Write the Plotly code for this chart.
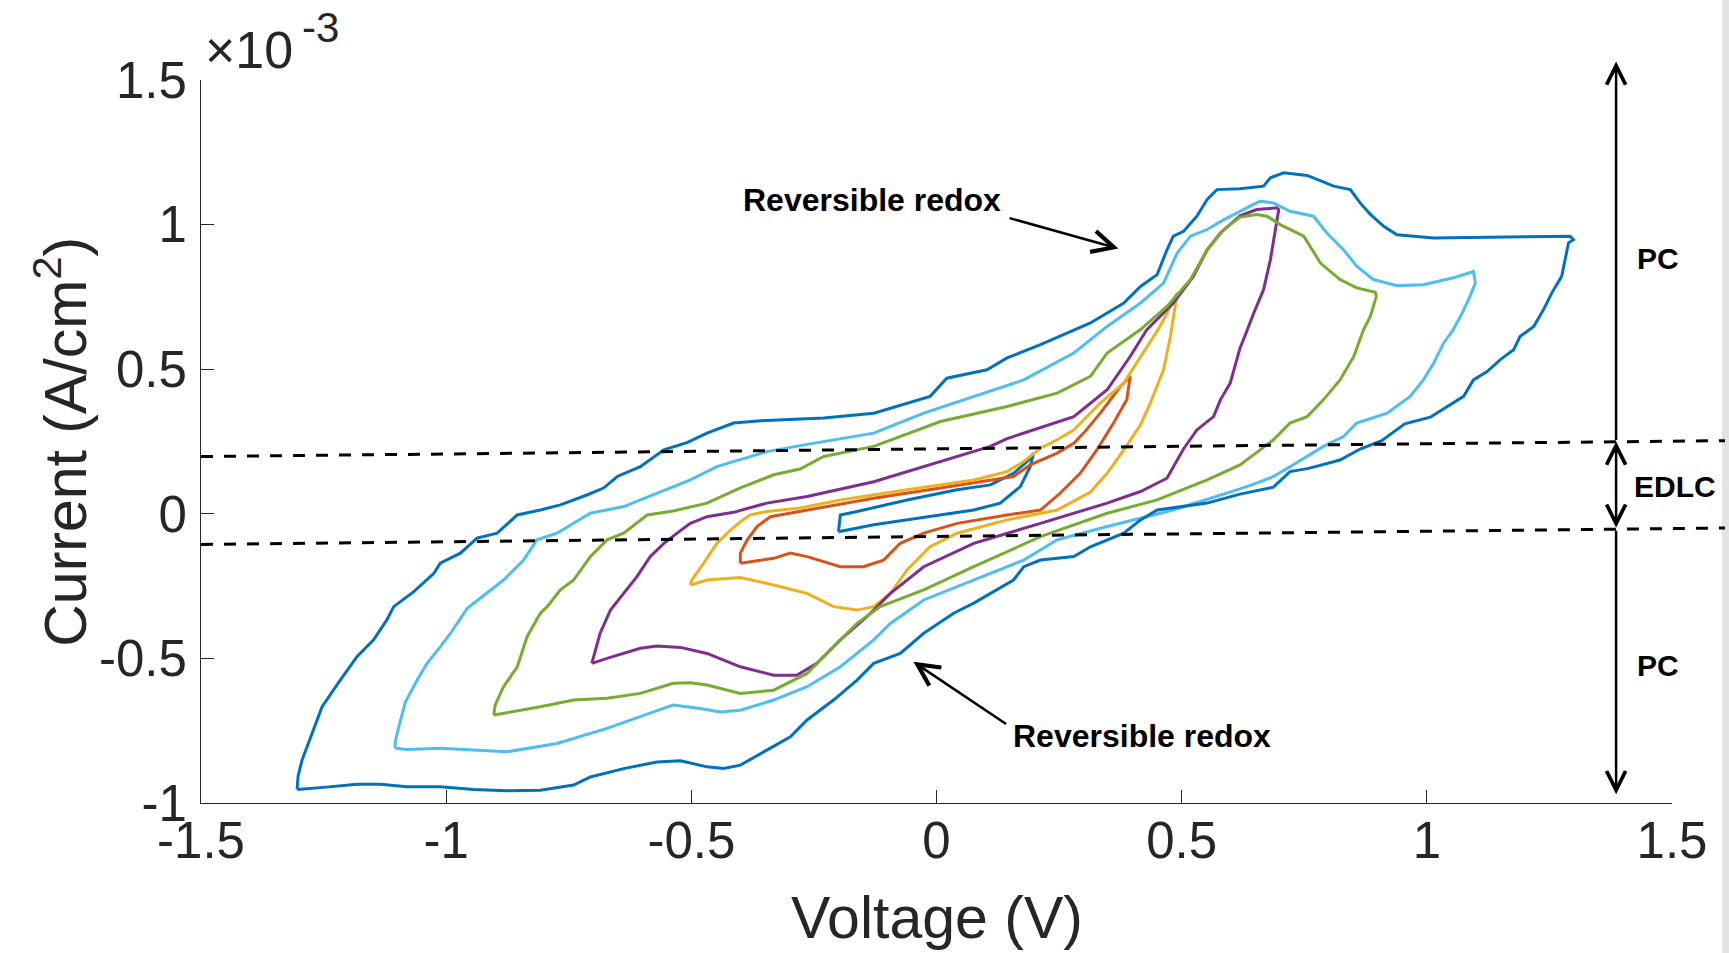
import plotly.graph_objects as go

# ---------------- data (Voltage in V, Current in 1e-3 A/cm^2) ----------------
# +-0.2 V window
v_02 = [-0.200, -0.196, -0.162, -0.060, 0.042, 0.110, 0.157, 0.185, 0.198,
        0.191, 0.171, 0.130, 0.076, 0.008, -0.060, -0.128, -0.200]
i_02 = [-0.062, -0.004, 0.008, 0.048, 0.083, 0.100, 0.140, 0.181, 0.210,
        0.163, 0.094, 0.037, 0.013, -0.004, -0.021, -0.038, -0.062]

# +-0.4 V window
v_04 = [-0.400, -0.400, -0.386, -0.366, -0.339, -0.264, -0.128, 0.008, 0.157, 0.191,
        0.246, 0.280, 0.300, 0.334, 0.361, 0.375, 0.395,
        0.388, 0.361, 0.327, 0.293, 0.252, 0.212, 0.144, 0.042, -0.026, -0.074,
        -0.108, -0.149, -0.196, -0.264, -0.298, -0.332, -0.400]
i_04 = [-0.171, -0.136, -0.090, -0.044, -0.010, 0.013, 0.054, 0.089, 0.129, 0.169,
        0.210, 0.244, 0.279, 0.348, 0.410, 0.440, 0.475,
        0.394, 0.314, 0.221, 0.140, 0.071, 0.013, -0.004, -0.033, -0.067, -0.102,
        -0.160, -0.183, -0.183, -0.148, -0.136, -0.154, -0.171]

# +-0.5 V window
v_05 = [-0.502, -0.499, -0.475, -0.448, -0.420, -0.400, -0.380, -0.346, -0.278, -0.196,
        -0.060, 0.076, 0.144, 0.178, 0.212, 0.246, 0.280, 0.334, 0.382, 0.416, 0.456, 0.491,
        0.477, 0.463, 0.436, 0.416, 0.382, 0.348, 0.314, 0.246, 0.144, 0.042, -0.013,
        -0.060, -0.094, -0.128, -0.162, -0.210, -0.264, -0.332, -0.400, -0.468, -0.502]
i_05 = [-0.246, -0.229, -0.171, -0.102, -0.056, -0.027, -0.004, 0.008, 0.020, 0.048,
        0.083, 0.117, 0.146, 0.181, 0.227, 0.256, 0.290, 0.383, 0.452, 0.544, 0.648, 0.764,
        0.613, 0.498, 0.383, 0.308, 0.221, 0.140, 0.075, 0.013, -0.021, -0.067, -0.114,
        -0.194, -0.275, -0.321, -0.333, -0.321, -0.275, -0.246, -0.220, -0.229, -0.246]

# +-0.7 V window
v_07 = [-0.703, -0.699, -0.686, -0.665, -0.638, -0.611, -0.584, -0.556, -0.529, -0.502,
        -0.468, -0.414, -0.346, -0.264, -0.128, 0.008, 0.110, 0.144, 0.246, 0.280, 0.348,
        0.395, 0.429, 0.483, 0.524, 0.552, 0.579, 0.619, 0.653, 0.694, 0.698,
        0.691, 0.681, 0.667, 0.647, 0.626, 0.619, 0.599, 0.579, 0.565, 0.531, 0.504, 0.470,
        0.416, 0.348, 0.212, 0.076, -0.026, -0.094, -0.142, -0.196, -0.244, -0.285, -0.332,
        -0.400, -0.468, -0.522, -0.570, -0.604, -0.672, -0.703]
i_07 = [-0.517, -0.494, -0.413, -0.333, -0.275, -0.217, -0.148, -0.102, -0.067, -0.033,
        -0.010, 0.005, 0.037, 0.060, 0.111, 0.181, 0.233, 0.260, 0.315, 0.336, 0.429,
        0.544, 0.637, 0.729, 0.821, 0.913, 0.971, 1.030, 1.052, 1.058, 1.052,
        0.983, 0.879, 0.775, 0.694, 0.602, 0.573, 0.452, 0.394, 0.336, 0.290, 0.225, 0.123,
        0.077, 0.037, -0.033, -0.102, -0.183, -0.275, -0.356, -0.436, -0.517, -0.558, -0.558,
        -0.529, -0.483, -0.462, -0.457, -0.465, -0.500, -0.517]

# +-0.9 V window
v_09 = [-0.903, -0.900, -0.883, -0.855, -0.835, -0.808, -0.794, -0.767, -0.740, -0.706,
        -0.672, -0.638, -0.590, -0.537, -0.468, -0.400, -0.332, -0.278, -0.230, -0.128,
        0.008, 0.144, 0.246, 0.314, 0.348, 0.416, 0.470, 0.518, 0.552, 0.586, 0.619, 0.653,
        0.674, 0.701, 0.749, 0.762, 0.783, 0.823, 0.857, 0.895, 0.897,
        0.885, 0.871, 0.851, 0.823, 0.789, 0.756, 0.721, 0.701, 0.687, 0.660, 0.619, 0.552,
        0.450, 0.348, 0.212, 0.076, -0.026, -0.115, -0.162, -0.196, -0.264, -0.332, -0.400,
        -0.468, -0.502, -0.537, -0.604, -0.672, -0.740, -0.808, -0.876, -0.903]
i_09 = [-0.696, -0.661, -0.598, -0.529, -0.425, -0.344, -0.321, -0.263, -0.229, -0.148,
        -0.090, -0.067, -0.004, 0.010, 0.037, 0.090, 0.135, 0.155, 0.198, 0.233,
        0.319, 0.371, 0.417, 0.475, 0.556, 0.637, 0.717, 0.810, 0.913, 0.983, 1.026, 1.035,
        1.029, 1.000, 0.960, 0.925, 0.867, 0.810, 0.781, 0.766, 0.752,
        0.683, 0.637, 0.544, 0.463, 0.394, 0.336, 0.314, 0.279, 0.256, 0.221, 0.169, 0.117,
        0.048, 0.002, -0.079, -0.183, -0.263, -0.321, -0.379, -0.436, -0.552, -0.610, -0.621,
        -0.592, -0.584, -0.586, -0.621, -0.638, -0.644, -0.667, -0.688, -0.696]

# +-1.1 V window
v_11 = [-1.104, -1.104, -1.093, -1.083, -1.059, -1.039, -1.012, -0.991, -0.957, -0.917,
        -0.883, -0.842, -0.815, -0.774, -0.706, -0.638, -0.550, -0.502, -0.448, -0.400,
        -0.346, -0.264, -0.128, -0.026, 0.076, 0.178, 0.280, 0.348, 0.416, 0.463, 0.491,
        0.518, 0.552, 0.586, 0.619, 0.660, 0.687, 0.721, 0.769, 0.796, 0.830, 0.857, 0.891,
        0.939, 0.993, 1.054, 1.095, 1.099,
        1.088, 1.072, 1.054, 1.034, 1.014, 0.993, 0.966, 0.919, 0.857, 0.830, 0.789, 0.756,
        0.721, 0.687, 0.653, 0.619, 0.483, 0.348, 0.246, 0.178, 0.076, -0.026, -0.094,
        -0.128, -0.196, -0.264, -0.332, -0.400, -0.441, -0.482, -0.537, -0.604, -0.672,
        -0.774, -0.876, -0.944, -1.012, -1.080, -1.104]
i_11 = [-0.811, -0.788, -0.713, -0.650, -0.575, -0.517, -0.460, -0.413, -0.327, -0.275,
        -0.229, -0.160, -0.090, -0.067, 0.002, 0.025, 0.083, 0.117, 0.163, 0.187,
        0.215, 0.240, 0.279, 0.348, 0.406, 0.463, 0.556, 0.648, 0.729, 0.798, 0.902,
        0.960, 0.983, 1.017, 1.046, 1.081, 1.075, 1.046, 1.029, 0.971, 0.913, 0.856, 0.810,
        0.789, 0.792, 0.816, 0.838, 0.798,
        0.752, 0.694, 0.637, 0.590, 0.521, 0.463, 0.406, 0.348, 0.314, 0.267, 0.233, 0.198,
        0.163, 0.129, 0.106, 0.086, 0.013, -0.044, -0.090, -0.160, -0.229, -0.298, -0.379,
        -0.436, -0.529, -0.598, -0.644, -0.679, -0.685, -0.673, -0.661, -0.702, -0.742,
        -0.794, -0.823, -0.817, -0.811, -0.815, -0.811]

# +-1.3 V window
v_13 = [-1.304, -1.302, -1.294, -1.273, -1.253, -1.216, -1.182, -1.148, -1.121, -1.107,
        -1.066, -1.025, -1.012, -0.971, -0.937, -0.896, -0.855, -0.808, -0.767, -0.713,
        -0.679, -0.651, -0.604, -0.556, -0.509, -0.468, -0.414, -0.346, -0.278, -0.230,
        -0.128, -0.060, -0.013, 0.021, 0.103, 0.144, 0.212, 0.314, 0.382, 0.416, 0.450,
        0.470, 0.483, 0.504, 0.531, 0.552, 0.572, 0.619, 0.667, 0.681, 0.708, 0.756, 0.810,
        0.844, 0.864, 0.885, 0.912, 0.939, 1.014, 1.163, 1.292, 1.299,
        1.289, 1.282, 1.275, 1.255, 1.238, 1.218, 1.190, 1.177, 1.150, 1.123, 1.095, 1.075,
        1.041, 1.007, 0.955, 0.908, 0.864, 0.823, 0.759, 0.721, 0.687, 0.647, 0.619, 0.552,
        0.450, 0.416, 0.382, 0.314, 0.280, 0.212, 0.178, 0.157, 0.076, 0.035, -0.026,
        -0.074, -0.128, -0.162, -0.210, -0.264, -0.298, -0.346, -0.400, -0.434, -0.468,
        -0.522, -0.570, -0.638, -0.706, -0.740, -0.808, -0.876, -0.944, -1.012, -1.080,
        -1.134, -1.182, -1.250, -1.304]
i_13 = [-0.953, -0.907, -0.852, -0.760, -0.667, -0.575, -0.494, -0.436, -0.367, -0.321,
        -0.269, -0.206, -0.171, -0.136, -0.084, -0.067, -0.004, 0.013, 0.031, 0.065,
        0.089, 0.129, 0.163, 0.221, 0.246, 0.279, 0.314, 0.323, 0.327, 0.331,
        0.348, 0.383, 0.406, 0.469, 0.498, 0.539, 0.585, 0.660, 0.729, 0.786, 0.827,
        0.913, 0.960, 0.977, 1.029, 1.087, 1.121, 1.124, 1.133, 1.162, 1.179, 1.170, 1.133,
        1.121, 1.075, 1.035, 0.994, 0.965, 0.954, 0.957, 0.960, 0.948,
        0.937, 0.879, 0.821, 0.764, 0.706, 0.648, 0.613, 0.567, 0.533, 0.492, 0.463, 0.406,
        0.371, 0.334, 0.311, 0.253, 0.224, 0.186, 0.157, 0.146, 0.092, 0.077, 0.068, 0.037,
        0.013, -0.021, -0.067, -0.114, -0.148, -0.160, -0.183, -0.229, -0.309, -0.344, -0.413,
        -0.483, -0.517, -0.575, -0.644, -0.713, -0.771, -0.817, -0.869, -0.881, -0.875,
        -0.854, -0.858, -0.881, -0.910, -0.938, -0.956, -0.958, -0.953, -0.944, -0.944,
        -0.935, -0.935, -0.946, -0.953]

loops = [
    (v_02, i_02, "#0072BD"),
    (v_04, i_04, "#D95319"),
    (v_05, i_05, "#EDB120"),
    (v_07, i_07, "#7E2F8E"),
    (v_09, i_09, "#77AC30"),
    (v_11, i_11, "#4DBEEE"),
    (v_13, i_13, "#0072BD"),
]

# axis settings
x_range = [-1.5, 1.5]
y_range = [-1.0, 1.5]
x_ticks = [-1.5, -1.0, -0.5, 0.0, 0.5, 1.0, 1.5]
x_ticktext = ["-1.5", "-1", "-0.5", "0", "0.5", "1", "1.5"]
y_ticks = [-1.0, -0.5, 0.0, 0.5, 1.0, 1.5]
y_ticktext = ["-1", "-0.5", "0", "0.5", "1", "1.5"]

# EDLC boundary guide lines (voltage, current) endpoints
edlc_upper_v = [-1.5, 1.608]
edlc_upper_i = [0.198, 0.253]
edlc_lower_v = [-1.5, 1.608]
edlc_lower_i = [-0.106, -0.049]

# region arrows (at V = 1.386)
region_v = 1.386
pc_top_i = 1.564
edlc_top_i = 0.250
edlc_bot_i = -0.053
pc_bot_i = -0.970

FONT = "Liberation Sans, Arial, Helvetica, sans-serif"
TXT = "#262626"

fig = go.Figure()
for v, i, c in loops:
    fig.add_trace(go.Scatter(x=v, y=i, mode="lines",
                             line=dict(color=c, width=3),
                             showlegend=False, hoverinfo="skip"))


def to_px(v):
    return (v - x_range[0]) / (x_range[1] - x_range[0])


def to_py(i):
    return (i - y_range[0]) / (y_range[1] - y_range[0])


shapes = []
for vv, ii in [(edlc_upper_v, edlc_upper_i), (edlc_lower_v, edlc_lower_i)]:
    shapes.append(dict(type="line", xref="paper", yref="paper",
                       x0=to_px(vv[0]), y0=to_py(ii[0]), x1=to_px(vv[1]), y1=to_py(ii[1]),
                       line=dict(color="black", width=3, dash="12px,11px")))
# light grey strip at the far right edge of the figure window
shapes.append(dict(type="rect", xref="paper", yref="paper", x0=1.034, x1=1.06,
                   y0=-0.3, y1=1.2, fillcolor="#e3e3e3", line=dict(width=0), layer="below"))

annotations = []


def arrow(tip_v, tip_i, tail_v, tail_i, both=False, size=1.5):
    d = dict(x=tip_v, y=tip_i, ax=tail_v, ay=tail_i, xref="x", yref="y",
             axref="x", ayref="y", text="", showarrow=True, arrowhead=5,
             arrowsize=size, arrowwidth=2.5, arrowcolor="black")
    if both:
        d.update(arrowside="end+start", startarrowhead=5, startarrowsize=size)
    return d


annotations.append(arrow(region_v, pc_top_i, region_v, edlc_top_i))
annotations.append(arrow(region_v, edlc_top_i, region_v, edlc_bot_i, both=True))
annotations.append(arrow(region_v, pc_bot_i, region_v, edlc_bot_i))
annotations.append(arrow(0.371, 0.917, 0.146, 1.024, size=1.7))
annotations.append(arrow(-0.047, -0.512, 0.145, -0.730, size=1.7))

labels = [
    ("<b>Reversible redox</b>", -0.131, 1.085, 32),
    ("<b>Reversible redox</b>", 0.419, -0.767, 32),
    ("<b>PC</b>", 1.471, 0.882, 30),
    ("<b>EDLC</b>", 1.506, 0.096, 30),
    ("<b>PC</b>", 1.471, -0.526, 30),
]
for t, xv, yv, fs in labels:
    annotations.append(dict(x=to_px(xv), y=to_py(yv), xref="paper", yref="paper",
                            text=t, showarrow=False,
                            xanchor="center", yanchor="middle",
                            font=dict(family=FONT, size=fs, color="black")))

annotations.append(dict(x=0.5, y=-0.1595, xref="paper", yref="paper", text="Voltage (V)",
                        showarrow=False, xanchor="center", yanchor="middle",
                        font=dict(family=FONT, size=59, color=TXT)))
annotations.append(dict(x=-0.095, y=0.5, xref="paper", yref="paper",
                        text="Current (A/cm<sup>2</sup>)", textangle=-90,
                        showarrow=False, xanchor="center", yanchor="middle",
                        font=dict(family=FONT, size=59, color=TXT)))
# axis multiplier  x10^-3
annotations.append(dict(x=0.0015, y=1.0415, xref="paper", yref="paper",
                        text="\u00d710", showarrow=False,
                        xanchor="left", yanchor="middle",
                        font=dict(family=FONT, size=52, color=TXT)))
annotations.append(dict(x=0.0675, y=1.072, xref="paper", yref="paper",
                        text="-3", showarrow=False,
                        xanchor="left", yanchor="middle",
                        font=dict(family=FONT, size=42, color=TXT)))

axis_common = dict(ticks="inside", ticklen=13, tickwidth=1, tickcolor=TXT,
                   showline=True, linecolor=TXT, linewidth=1, showgrid=False,
                   zeroline=False, tickfont=dict(family=FONT, size=51, color=TXT))

fig.update_layout(
    width=1729, height=953,
    margin=dict(l=201, r=57, t=80, b=150, pad=0),
    plot_bgcolor="white", paper_bgcolor="white", showlegend=False,
    xaxis=dict(range=x_range, tickvals=x_ticks, ticktext=x_ticktext,
               ticklabelstandoff=-7, **axis_common),
    yaxis=dict(range=y_range, tickvals=y_ticks, ticktext=y_ticktext,
               ticklabelstandoff=3, **axis_common),
    shapes=shapes, annotations=annotations,
)

fig.write_html("out.html")
